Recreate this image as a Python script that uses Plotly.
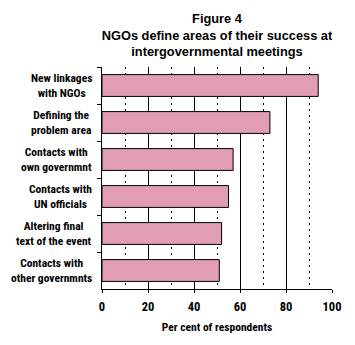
import plotly.graph_objects as go

categories = ["New linkages<br>with NGOs", "Defining the<br>problem area", "Contacts with<br>own governmnt",
              "Contacts with<br>UN officials", "Altering final<br>text of the event", "Contacts with<br>other governmnts"]
values = [94, 73, 57, 55, 52, 51]
x_ticks = [0, 20, 40, 60, 80, 100]

NARROW = "Roboto Condensed, sans-serif"

fig = go.Figure()
fig.add_trace(go.Bar(
    x=values, y=categories, orientation="h", width=0.59,
    marker=dict(color="#E09DB5", line=dict(color="black", width=1)),
))

for c in categories:
    fig.add_annotation(x=0, xref="paper", y=c, yref="y", text="<b>" + c + "</b>",
                       xanchor="right", yanchor="middle", align="center", xshift=-8,
                       showarrow=False, font=dict(family=NARROW, size=11.5, color="black"))

fig.update_layout(
    width=355, height=345,
    margin=dict(l=102.3, r=22.7, t=67.3, b=56.3),
    paper_bgcolor="white", plot_bgcolor="white",
    showlegend=False, bargap=0.4,
    title=dict(text="<b>Figure 4<br>NGOs define areas of their success at<br>intergovernmental meetings</b>",
               x=0.5, xanchor="center", xref="paper", y=1 - 23 / 345, yanchor="top", yref="container",
               font=dict(family="Liberation Sans, Arial, sans-serif", size=12.8, color="black")),
)
fig.update_xaxes(
    range=[0, 100], tickmode="array", tickvals=x_ticks, ticktext=["<b>%d</b>" % t for t in x_ticks],
    tickfont=dict(family=NARROW, size=12.5, color="black"), ticklabelstandoff=3,
    showline=True, linecolor="black", linewidth=1,
    ticks="outside", ticklen=3, tickcolor="black", tickwidth=1,
    showgrid=True, gridcolor="black", gridwidth=1,
    minor=dict(dtick=10, tick0=0, showgrid=True, gridcolor="black", gridwidth=1, griddash="2px,4px", ticks=""),
    zeroline=False,
    title=dict(text="<b>Per cent of respondents</b>", font=dict(family=NARROW, size=11.5, color="black"), standoff=9),
)
fig.update_yaxes(
    autorange="reversed", showticklabels=False,
    showline=True, linecolor="black", linewidth=1,
    ticks="outside", ticklen=4, tickcolor="black", tickson="boundaries",
    showgrid=False, zeroline=False,
)
fig.write_html("out.html")
